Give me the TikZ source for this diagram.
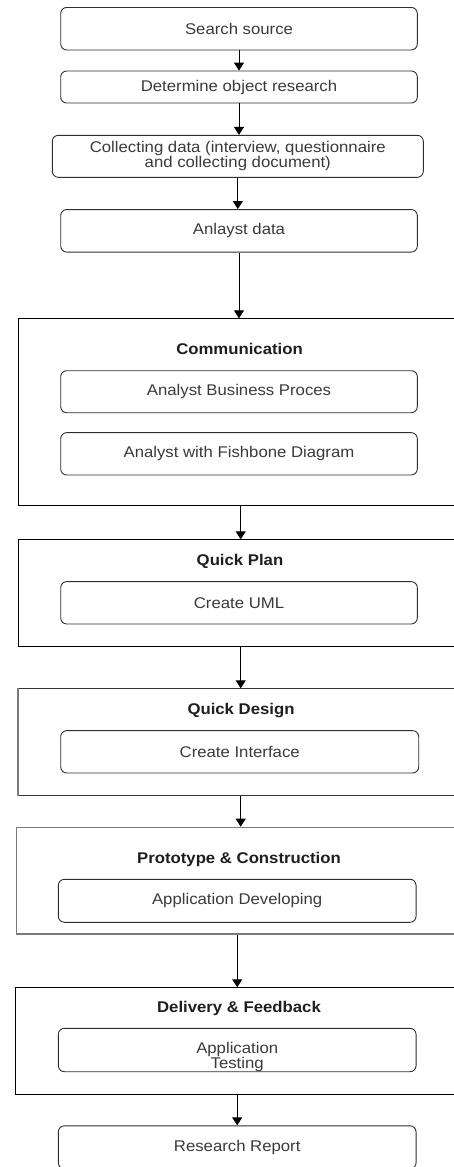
\documentclass[tikz,border=0pt]{standalone}
\usepackage{fontspec}
\setmainfont{Liberation Sans}[FakeStretch=1.08]
\usetikzlibrary{arrows.meta,calc}
\definecolor{txt}{HTML}{3A3A3A}
\definecolor{ttl}{HTML}{1E1E1E}
\definecolor{edge}{HTML}{2E2E2E}
\definecolor{grayedge}{HTML}{7A7A7A}
\begin{document}
\begin{tikzpicture}[x=1pt,y=-1pt,
  every node/.style={font=\fontsize{15.5}{15}\selectfont},
  inbox/.style={draw=edge,line width=0.9pt,rounded corners=6pt,text=txt,
    align=center,inner sep=0pt,minimum width=356.6pt,minimum height=42.5pt},
  outbox/.style={draw=black,line width=0.9pt,anchor=north west,inner sep=0pt,
    minimum width=455pt},
  title/.style={text=ttl,font=\fontsize{15.5}{15}\selectfont\bfseries,inner sep=0pt},
  arr/.style={draw=black,line width=0.9pt,-{Triangle[length=8pt,width=10pt]}}
]
\useasboundingbox (0,0) rectangle (454,1167);

% top chain
\node[inbox] (s1) at (239,28.7) {Search source};
\node[inbox,minimum height=32pt] (s2) at (239,87) {Determine object research};
\node[inbox,minimum width=371pt,minimum height=42pt] (s3) at (237.8,156.3)
  {Collecting data (interview, questionnaire\\and collecting document)};
\node[inbox] (s4) at (239,230.8) {Anlayst data};

% Communication
\node[outbox,minimum height=186.4pt] (comm) at (18.3,318.3) {};
\node[title] (commt) at (239.5,349.3) {Communication};
\node[inbox,minimum height=42pt] (c1) at (239,391.7) {Analyst Business Proces};
\node[inbox,minimum height=42.3pt] (c2) at (239,453.8) {Analyst with Fishbone Diagram};

% Quick Plan
\node[outbox,minimum height=106.7pt] (qp) at (18.3,539.3) {};
\node[title] (qpt) at (240,561) {Quick Plan};
\node[inbox,minimum height=42.3pt] (p1) at (239,602.8) {Create UML};

% Quick Design
\node[outbox,draw=black!80,minimum height=107pt] (qd) at (18.3,688.3) {};
\draw[grayedge,line width=1.8pt] (qd.north west) -- (qd.south west);
\node[title] (qdt) at (241,710.7) {Quick Design};
\node[inbox,minimum width=358pt,minimum height=42.3pt] (d1) at (239.7,751.8) {Create Interface};

% Prototype & Construction
\node[outbox,draw=grayedge,line width=1.5pt,minimum height=106.6pt] (pc) at (15.7,826.7) {};
\node[title] (pct) at (239,859.3) {Prototype \& Construction};
\node[inbox,minimum width=357.7pt,minimum height=43pt] (a1) at (237.2,900.8) {Application Developing};

% Delivery & Feedback
\node[outbox,minimum height=106.7pt] (df) at (15.3,987.3) {};
\node[title] (dft) at (239,1008.3) {Delivery \& Feedback};
\node[inbox,minimum width=357.7pt,minimum height=43.4pt,
  label={[text=txt,align=center,inner sep=0pt,yshift=-7pt]center:{Application\\Testing}}]
  (t1) at (237.2,1050) {};

% Research Report
\node[inbox,minimum width=357.7pt,minimum height=43pt] (rr) at (237.2,1147.3) {Research Report};

% connectors
\draw[arr] (s1.south) -- (s2.north);
\draw[arr] (s2.south) -- (s2.south |- s3.north);
\draw[arr] (s3.south) -- (s3.south |- s4.north);
\draw[arr] (s4.south) -- (s4.south |- comm.north);
\draw[arr] ([xshift=1.7pt]c2.south |- comm.south) -- ([xshift=1.7pt]c2.south |- qp.north);
\draw[arr] ([xshift=1.7pt]p1.south |- qp.south) -- ([xshift=1.7pt]p1.south |- qd.north);
\draw[arr] ([xshift=1pt]d1.south |- qd.south) -- ([xshift=1pt]d1.south |- pc.north);
\draw[arr] (a1.south |- pc.south) -- (a1.south |- df.north);
\draw[arr] (t1.south |- df.south) -- (rr.north);
\end{tikzpicture}
\end{document}
